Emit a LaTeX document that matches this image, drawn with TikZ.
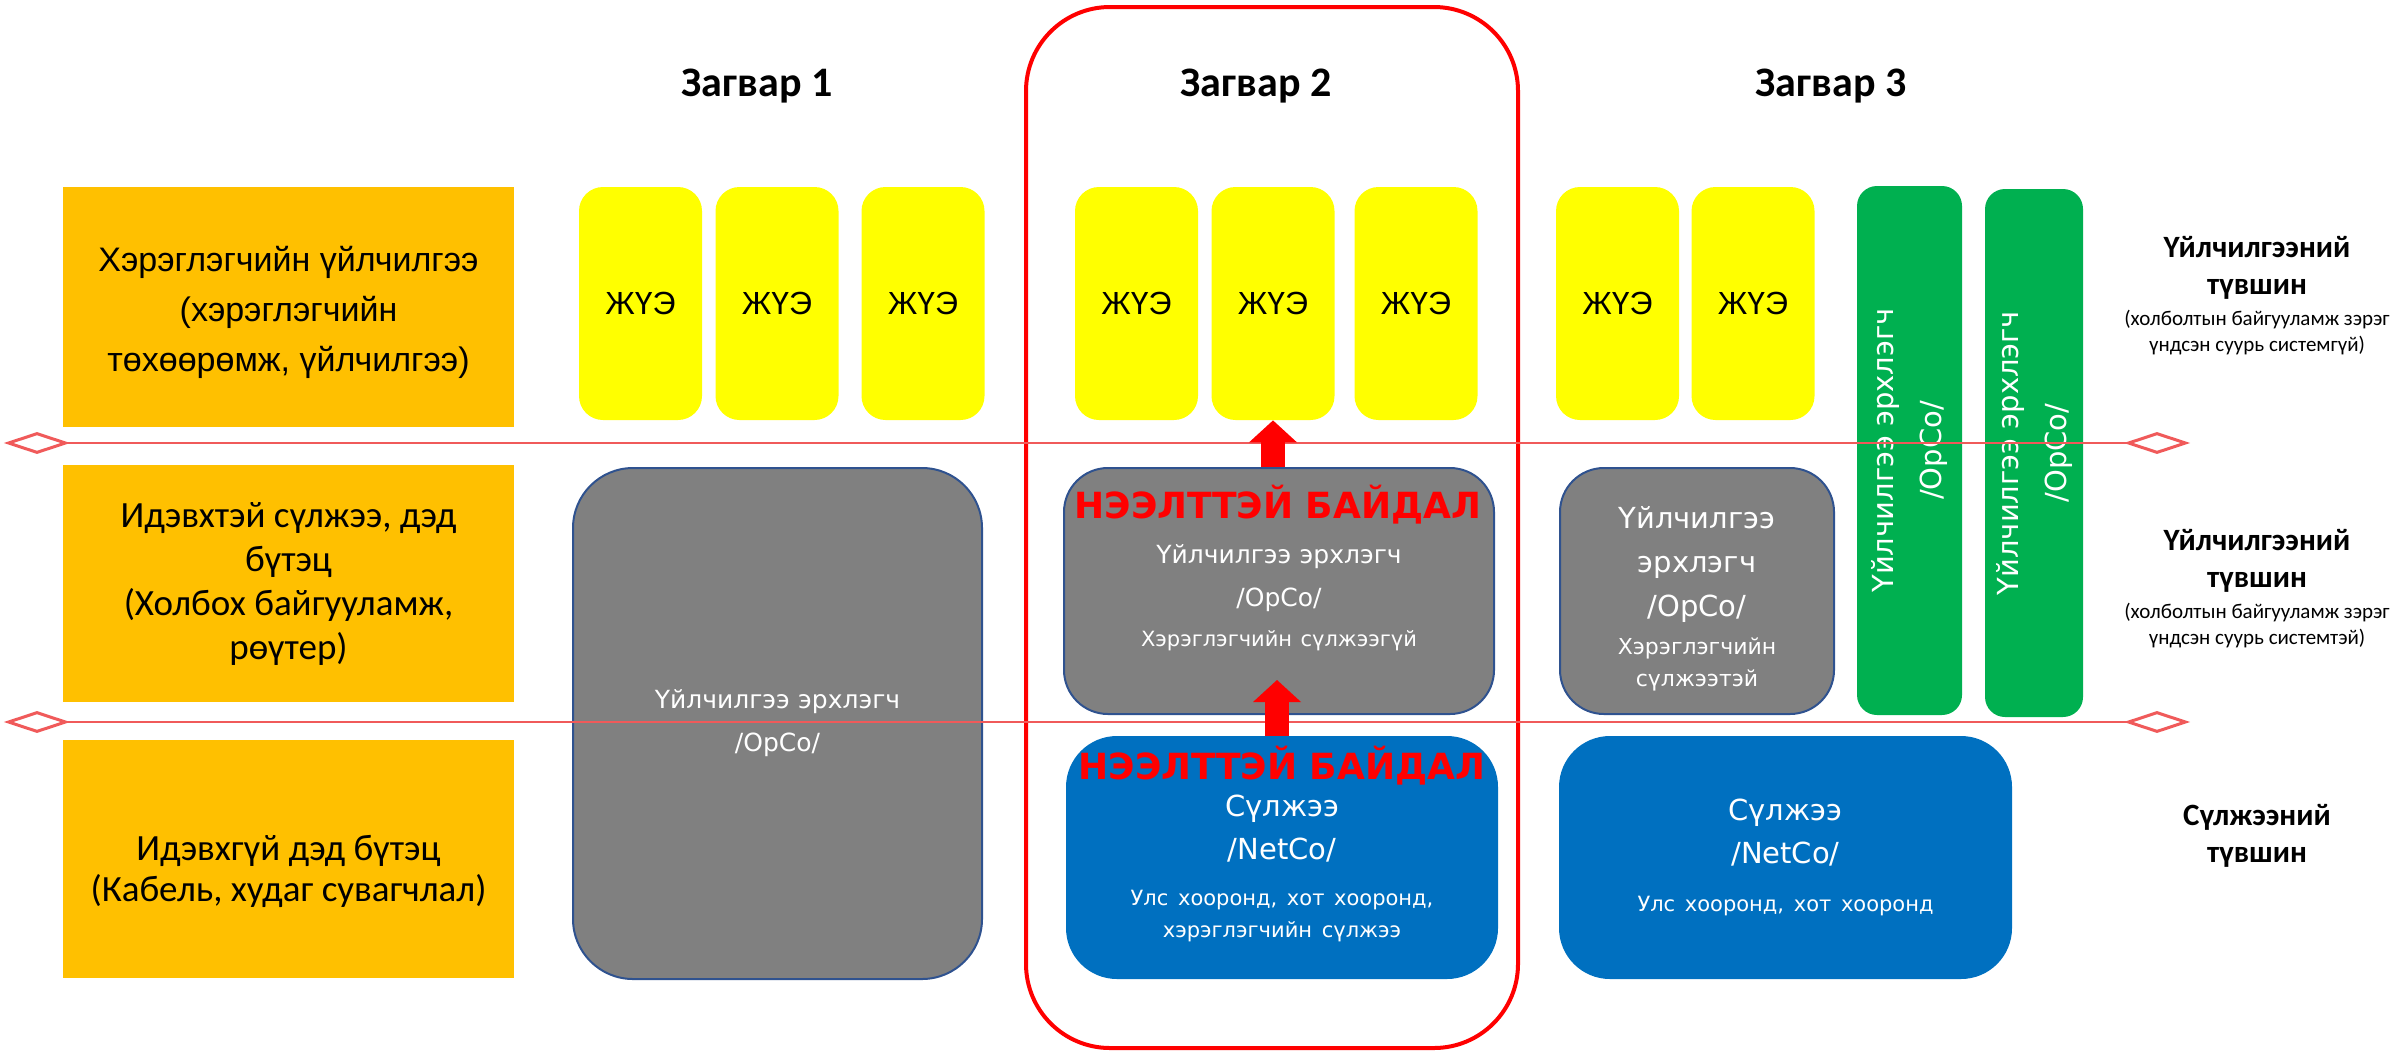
\documentclass[tikz,border=0pt]{standalone}
\usepackage{fontspec}
\setmainfont{Carlito}
\newfontfamily\arialfont{Liberation Sans}
\newfontfamily\verdfont{DejaVu Sans}
\usetikzlibrary{arrows.meta,positioning,shapes.geometric}
\definecolor{layerorange}{RGB}{255,192,0}
\definecolor{jueyellow}{RGB}{255,255,0}
\definecolor{opcogray}{RGB}{128,128,128}
\definecolor{opcoborder}{RGB}{47,82,143}
\definecolor{netblue}{RGB}{0,112,192}
\definecolor{opcogreen}{RGB}{0,176,80}
\definecolor{linered}{RGB}{240,90,90}
\newcommand{\notesize}{\fontsize{10.5}{16}\selectfont}
% strut that lowers the text block in a box
\newcommand{\tallstrut}[1]{\rule{0pt}{#1}}
\tikzset{
    %Define style for boxes
    layer/.style={
           rectangle,
           fill=layerorange,
           inner sep=0pt,
           minimum width=225.5pt,
           align=center,
           font=\fontsize{18.5}{22}\selectfont},
    jue/.style={
           rectangle,
           rounded corners=12pt,
           fill=jueyellow,
           inner sep=0pt,
           minimum width=61.5pt,
           minimum height=116.5pt,
           font=\arialfont\fontsize{16}{19}\selectfont},
    opco/.style={
           rectangle,
           rounded corners=22pt,
           fill=opcogray,
           draw=opcoborder, line width=1pt,
           inner sep=0pt,
           text=white,
           align=center,
           font=\verdfont\fontsize{12.5}{21.5}\selectfont},
    netco/.style={
           opco,
           fill=netblue,
           draw=netblue,
           rounded corners=25pt,
           font=\verdfont\fontsize{14.5}{21.5}\selectfont},
    greenbox/.style={
           rectangle,
           rounded corners=10pt,
           fill=opcogreen,
           inner sep=0pt},
    greentext/.style={
           rotate=90,
           text=white,
           align=center,
           font=\verdfont\fontsize{14.5}{24}\selectfont},
    frame/.style={
           rectangle,
           rounded corners=42pt,
           draw=red, line width=2pt,
           inner sep=0pt},
    title/.style={font=\bfseries\fontsize{21}{25}\selectfont},
    lvlhead/.style={align=center, inner sep=0pt,
           font=\bfseries\fontsize{15.5}{18.5}\selectfont},
    lvlnote/.style={align=center, inner sep=0pt,
           font=\fontsize{10.5}{13}\selectfont},
    openlabel/.style={text=red, inner sep=0pt,
           font=\verdfont\bfseries\fontsize{18}{21}\selectfont},
    % Define separator style
    sepline/.style={draw=linered, line width=1pt},
    sepmark/.style={
           diamond,
           draw=linered, line width=1.5pt,
           fill=white,
           minimum width=29pt,
           minimum height=10pt,
           inner sep=0pt},
    % Define arrow style
    uparrow/.style={
           draw=red,
           line width=12pt,
           -{Triangle[length=11pt,width=24pt,line width=0pt]}}
}
\begin{document}
\begin{tikzpicture}[x=0.5pt,y=-0.5pt]
\useasboundingbox (0,0) rectangle (2407,1061);

 %frame
\node[frame, minimum width=246pt, minimum height=520.5pt](zframe) at (1272,527.5){};

 %titles
\node[title](title1) at (757,86){Загвар 1};
\node[title](title2) at (1256,86){Загвар 2};
\node[title](title3) at (1831,86){Загвар 3};

 %layers
\node[layer, minimum height=120pt, font=\arialfont\fontsize{17}{25}\selectfont](lay1) at (288.5,307)
    {\tallstrut{18.5pt}Хэрэглэгчийн үйлчилгээ\\(хэрэглэгчийн\\төхөөрөмж, үйлчилгээ)};
\node[layer, minimum height=118.5pt](lay2) at (288.5,583.5)
    {Идэвхтэй сүлжээ, дэд\\бүтэц\\(Холбох байгууламж,\\рөүтер)};
\node[layer, minimum height=119pt, font=\fontsize{18.5}{20.5}\selectfont](lay3) at (288.5,859)
    {\tallstrut{25pt}Идэвхгүй дэд бүтэц\\(Кабель, худаг сувагчлал)};

 %services
\node[jue](jue1) at (640.5,303.5){ЖҮЭ};
\node[jue](jue2) at (777,303.5){ЖҮЭ};
\node[jue](jue3) at (923,303.5){ЖҮЭ};
\node[jue](jue4) at (1136.5,303.5){ЖҮЭ};
\node[jue](jue5) at (1273,303.5){ЖҮЭ};
\node[jue](jue6) at (1416,303.5){ЖҮЭ};
\node[jue](jue7) at (1617.5,303.5){ЖҮЭ};
\node[jue](jue8) at (1753,303.5){ЖҮЭ};

 %operators and networks
\node[opco, rounded corners=30pt, minimum width=204.5pt, minimum height=255.5pt,
      text width=190pt](opco1) at (777.5,723.5)
    {Үйлчилгээ эрхлэгч\\/OpCo/};
\node[opco, minimum width=215pt, minimum height=123pt, text width=200pt](opco2) at (1279,591)
    {\tallstrut{16pt}Үйлчилгээ эрхлэгч\\/OpCo/\par\vspace{4pt}\notesize Хэрэглэгчийн сүлжээгүй\par};
\node[netco, minimum width=215pt, minimum height=120.5pt, text width=200pt](net2) at (1282,857.5)
    {\tallstrut{22pt}Сүлжээ\\/NetCo/\par\vspace{7pt}\notesize Улс хооронд, хот хооронд,\\хэрэглэгчийн сүлжээ\par};
\node[opco, minimum width=137pt, minimum height=123pt, text width=125pt,
      font=\verdfont\fontsize{14.5}{22}\selectfont](opco3) at (1697,591)
    {\tallstrut{19pt}Үйлчилгээ\\эрхлэгч\\/OpCo/\par\vspace{3pt}\fontsize{11}{16}\selectfont Хэрэглэгчийн\\сүлжээтэй\par};
\node[netco, minimum width=225.5pt, minimum height=120.5pt, text width=200pt](net3) at (1785.5,857.5)
    {Сүлжээ\\/NetCo/\par\vspace{8pt}\notesize Улс хооронд, хот хооронд\par};
\node[greenbox, minimum width=52.5pt, minimum height=264.5pt](green1) at (1909.5,450.5){};
\node[greenbox, minimum width=49pt, minimum height=264pt](green2) at (2034,453){};
\node[greentext](gtext1) at (green1.center){Үйлчилгээ эрхлэгч\\/OpCo/};
\node[greentext](gtext2) at (green2.center){Үйлчилгээ эрхлэгч\\/OpCo/};

 %separators
\node[sepmark](lmark1) at (37,443){};
\node[sepmark](rmark1) at (2157,443){};
\node[sepmark](lmark2) at (37,722){};
\node[sepmark](rmark2) at (2157,722){};
\path[sepline]
    (lmark1) edge (rmark1)
    (lmark2) edge (rmark2);

 %arrows
\coordinate (tip2) at (1277,680);
\draw[uparrow] (opco2.north -| jue5.south) -- (jue5.south);
\draw[uparrow] (net2.north -| tip2) -- (tip2);
\node[openlabel](open1) at (1278,505){НЭЭЛТТЭЙ БАЙДАЛ};
\node[openlabel](open2) at (1282,766){НЭЭЛТТЭЙ БАЙДАЛ};

 %levels
\node[lvlhead](lvl1) at (2257,268){Үйлчилгээний\\түвшин};
\node[lvlnote, below=5pt of lvl1](note1){(холболтын байгууламж зэрэг\\үндсэн суурь системгүй)};
\node[lvlhead](lvl2) at (2257,561){Үйлчилгээний\\түвшин};
\node[lvlnote, below=5pt of lvl2](note2){(холболтын байгууламж зэрэг\\үндсэн суурь системтэй)};
\node[lvlhead](lvl3) at (2257,836){Сүлжээний\\түвшин};

\end{tikzpicture}
\end{document}
